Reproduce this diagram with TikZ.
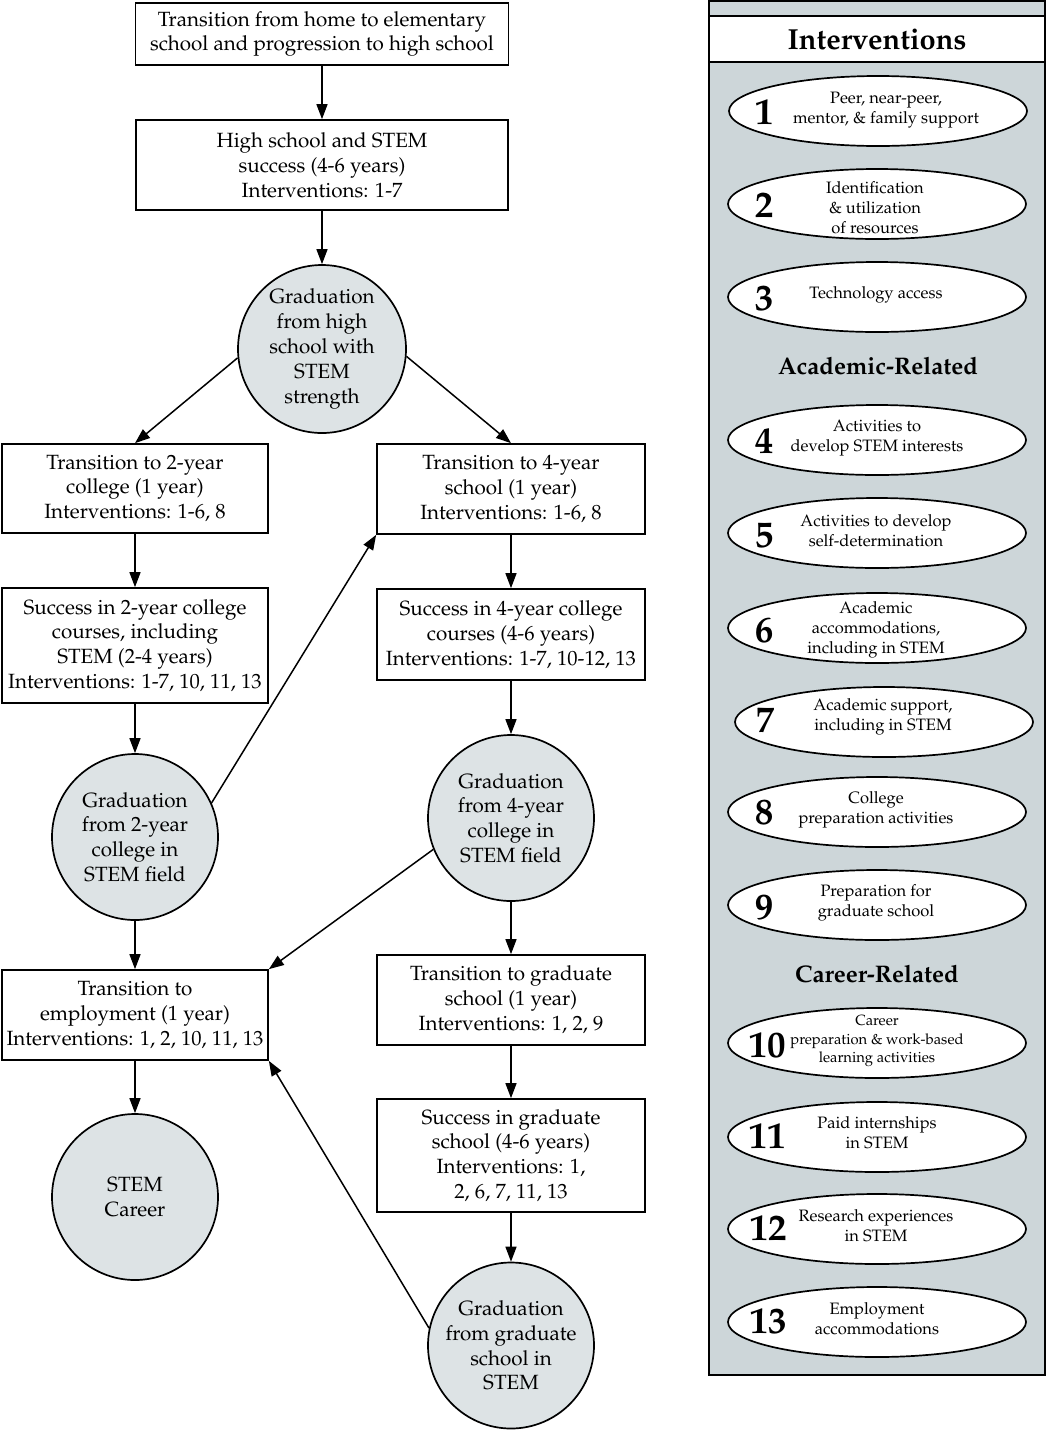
\documentclass[tikz,border=0pt]{standalone}
\usepackage[T1]{fontenc}
\usepackage{mathpazo}
\usetikzlibrary{arrows.meta,shapes.geometric}
\definecolor{panelgray}{HTML}{CDD6D9}
\definecolor{circgray}{HTML}{DDE3E5}
\begin{document}
\begin{tikzpicture}[x=1pt,y=-1pt,
  box/.style={draw, line width=1.7pt, inner sep=0pt, align=center, font=\fontsize{20.6}{24.8}\selectfont},
  circ/.style={draw, circle, fill=circgray, line width=1.7pt, minimum size=166pt, inner sep=0pt, align=center, font=\fontsize{20.6}{24.8}\selectfont},
  arr/.style={line width=1.5pt, -{Triangle[length=15pt,width=11pt]}},
  ell/.style={draw, ellipse, fill=white, line width=1.7pt, minimum width=298pt, minimum height=70pt, inner sep=0pt},
  num/.style={font=\fontsize{37}{37}\bfseries\selectfont, inner sep=0pt},
  etxt/.style={align=center, font=\fontsize{16.5}{20}\selectfont, inner sep=0pt},
  head/.style={font=\fontsize{24}{28}\bfseries\selectfont, inner sep=0pt}]
\useasboundingbox (0,0) rectangle (1047,1433);

% ---------- flow chart ----------
\node[box, minimum width=373pt, minimum height=62pt] (b1) at (322,34)
  {Transition from home to elementary\\school and progression to high school};
\node[box, minimum width=372pt, minimum height=90pt] (b2) at (322,165)
  {High school and STEM\\success (4-6 years)\\Interventions: 1-7};
\node[circ, minimum size=168pt] (c1) at (322,349)
  {Graduation\\from high\\school with\\STEM\\strength};

\node[box, minimum width=266pt, minimum height=89pt] (l1) at (135,488.5)
  {Transition to 2-year\\college (1 year)\\Interventions: 1-6, 8};
\node[box, minimum width=268pt, minimum height=90pt] (r1) at (511,489)
  {Transition to 4-year\\school (1 year)\\Interventions: 1-6, 8};
\node[box, minimum width=266pt, minimum height=115pt] (l2) at (135,645.5)
  {Success in 2-year college\\courses, including\\STEM (2-4 years)\\Interventions: 1-7, 10, 11, 13};
\node[box, minimum width=268pt, minimum height=91pt] (r2) at (511,634.5)
  {Success in 4-year college\\courses (4-6 years)\\Interventions: 1-7, 10-12, 13};
\node[circ] (cl) at (135,837)
  {Graduation\\from 2-year\\college in\\STEM field};
\node[circ] (cr) at (511,818)
  {Graduation\\from 4-year\\college in\\STEM field};
\node[box, minimum width=266pt, minimum height=90pt] (l3) at (135,1015)
  {Transition to\\employment (1 year)\\Interventions: 1, 2, 10, 11, 13};
\node[box, minimum width=268pt, minimum height=90pt] (r3) at (511,1000)
  {Transition to graduate\\school (1 year)\\Interventions: 1, 2, 9};
\node[box, minimum width=268pt, minimum height=113pt] (r4) at (511,1155.5)
  {Success in graduate\\school (4-6 years)\\Interventions: 1,\\2, 6, 7, 11, 13};
\node[circ] (career) at (135,1197) {STEM\\Career};
\node[circ] (cg) at (511,1345.5)
  {Graduation\\from graduate\\school in\\STEM};

\draw[arr] (b1) -- (b2);
\draw[arr] (b2) -- (c1);
\draw[arr] (c1.186) -- (l1.north);
\draw[arr] (c1.355) -- (r1.north);
\draw[arr] (l1) -- (l2);
\draw[arr] (l2) -- (cl);
\draw[arr] (cl.24) -- (r1.south west);
\draw[arr] (r1) -- (r2);
\draw[arr] (r2) -- (cr);
\draw[arr] (cl) -- (l3);
\draw[arr] (cr.202) -- (l3.north east);
\draw[arr] (cr) -- (r3);
\draw[arr] (r3) -- (r4);
\draw[arr] (r4) -- (cg);
\draw[arr] (cg.168) -- (l3.south east);
\draw[arr] (l3) -- (career);

% ---------- interventions panel ----------
\draw[line width=1.8pt, fill=panelgray] (709,1) rectangle (1045,1375);
\draw[line width=1.5pt, fill=white] (709,16) rectangle (1045,62);
\node[font=\fontsize{29}{32}\bfseries\selectfont, inner sep=0pt] (ht) at (877,40) {Interventions};

\node[ell] (e1) at (878,111) {};
\node[num] (n1) at (764,112) {1};
\node[etxt] (t1) at (886,110) {Peer, near-peer,\\mentor, \& family support};

\node[ell] (e2) at (877,204) {};
\node[num] (n2) at (764,205) {2};
\node[etxt] (t2) at (875,208) {Identification\\\& utilization\\of resources};

\node[ell] (e3) at (877,297) {};
\node[num] (n3) at (764,298) {3};
\node[etxt] (t3) at (876,295) {Technology access};

\node[head] (h1) at (878,366) {Academic-Related};

\node[ell] (e4) at (877,440) {};
\node[num] (n4) at (764,441) {4};
\node[etxt] (t4) at (877,438) {Activities to\\develop STEM interests};

\node[ell] (e5) at (877,533) {};
\node[num] (n5) at (764,535) {5};
\node[etxt] (t5) at (876,531) {Activities to develop\\self-determination};

\node[ell] (e6) at (877,628) {};
\node[num] (n6) at (764,630) {6};
\node[etxt] (t6) at (876,630) {Academic\\accommodations,\\including in STEM};

\node[ell] (e7) at (884,722) {};
\node[num] (n7) at (765,720) {7};
\node[etxt] (t7) at (883,717) {Academic support,\\including in STEM};

\node[ell] (e8) at (877,812) {};
\node[num] (n8) at (764,812) {8};
\node[etxt] (t8) at (876,810) {College\\preparation activities};

\node[ell] (e9) at (877,905) {};
\node[num] (n9) at (764,907) {9};
\node[etxt] (t9) at (876,903) {Preparation for\\graduate school};

\node[head] (h2) at (877,974) {Career-Related};

\node[ell] (e10) at (877,1043) {};
\node[num] (n10) at (767,1045) {10};
\node[etxt, font=\fontsize{14.8}{18.5}\selectfont] (t10) at (877,1041) {Career\\preparation \& work-based\\learning activities};

\node[ell] (e11) at (877,1137) {};
\node[num] (n11) at (767,1136) {11};
\node[etxt] (t11) at (877,1133) {Paid internships\\in STEM};

\node[ell] (e12) at (877,1229) {};
\node[num] (n12) at (768,1228) {12};
\node[etxt] (t12) at (876,1226) {Research experiences\\in STEM};

\node[ell] (e13) at (877,1322) {};
\node[num] (n13) at (768,1321) {13};
\node[etxt] (t13) at (877,1319) {Employment\\accommodations};
\end{tikzpicture}
\end{document}
